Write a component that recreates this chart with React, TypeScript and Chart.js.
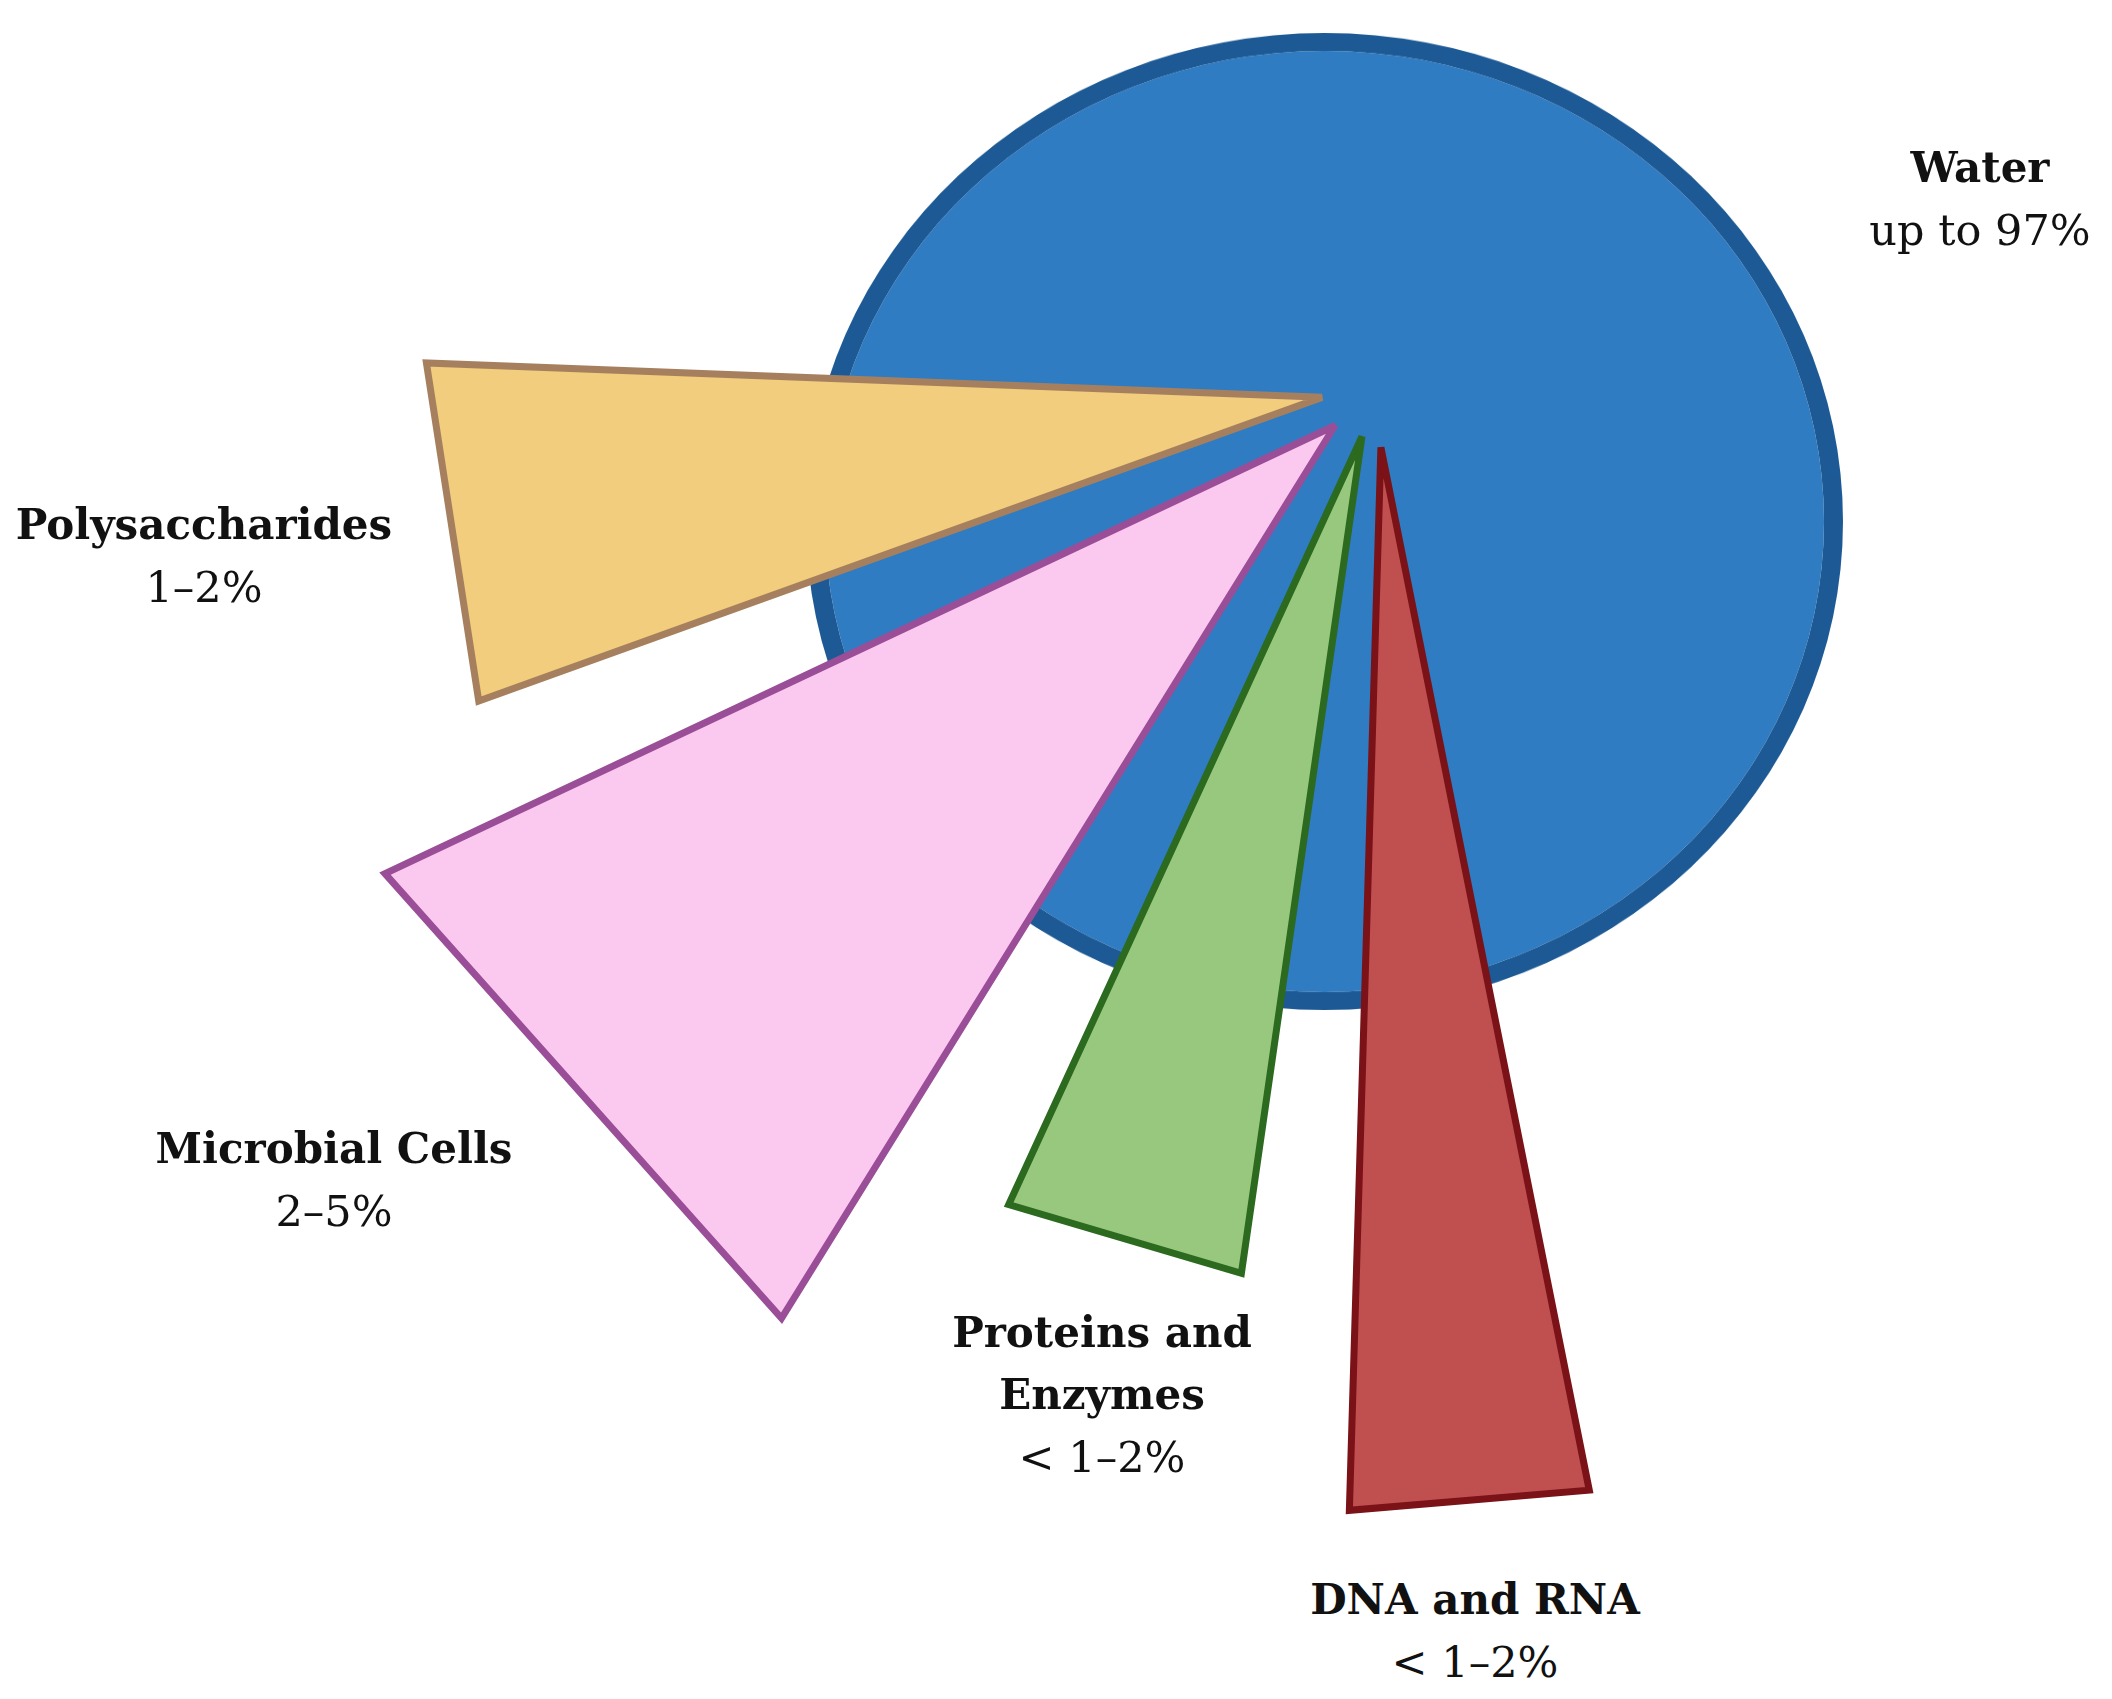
import React, { useEffect, useRef } from 'react';
import { Chart, registerables } from 'chart.js';

Chart.register(...registerables);

// ---------- data ----------
const waterName = 'Water';
const waterShareText = 'up to 97%';
const waterValue = [97];

// wedges, clockwise starting from the lowest one
const wedgeNames = ['DNA and RNA', 'Proteins and Enzymes', 'Microbial Cells', 'Polysaccharides'];
const wedgeNameLines = [['DNA and RNA'], ['Proteins and', 'Enzymes'], ['Microbial Cells'], ['Polysaccharides']];
const wedgeShareText = ['< 1–2%', '< 1–2%', '2–5%', '1–2%'];
// visual length of each wedge (water radius = 100)
const wedgeLength = [205.4, 163.3, 202.9, 173.1];
// angular width of each wedge and the gap before it (degrees)
const wedgeSpanDeg = [13.0, 16.5, 32.95, 22.0];
const wedgeGapDeg = [0, 6.5, 7.1, 5.45];

// ---------- styles / layout ----------
const wedgeFill = ['#C0504F', '#98C87E', '#FBC9EF', '#F1CD7D'];
const wedgeBorder = ['#7A1217', '#2C6A1F', '#9A4E97', '#A6805E'];
const wedgeOffset = [58.6, 49.5, 54.8, 54.7];
const wedgeStartDeg = 78.7;
const waterFill = '#2F7CC2';
const waterBorder = '#1D5A95';

const PAGE_W = 2112;
const PAGE_H = 1699;
const POLAR_SIZE = 2278;
const POLAR_LEFT = 1376 - POLAR_SIZE / 2;
const POLAR_TOP = 389 - POLAR_SIZE / 2;
const WATER_SIZE = 1037;
const WATER_H = 977;
const WATER_LEFT = 806;
const WATER_TOP = 33;

const FONT = '"DejaVu Serif", serif';
const BOLD_SIZE = 42;
const REG_SIZE = 43;
const LINE_H = 62;

const labelAnchors: Record<string, { x: number; y: number }> = {
  'Water': { x: 1980, y: 168 },
  'Polysaccharides': { x: 204, y: 525 },
  'Microbial Cells': { x: 334, y: 1149 },
  'Proteins and Enzymes': { x: 1102, y: 1333 },
  'DNA and RNA': { x: 1475, y: 1600 },
};

const trianglePlugin = {
  id: 'wedgeTriangles',
  beforeDatasetDraw() {
    return false;
  },
  afterDatasetsDraw(chart: any) {
    const meta = chart.getDatasetMeta(0);
    const ctx: CanvasRenderingContext2D = chart.ctx;
    meta.data.forEach((el: any, i: number) => {
      const { x, y, startAngle, endAngle, outerRadius } = el.getProps(
        ['x', 'y', 'startAngle', 'endAngle', 'outerRadius'],
        true
      );
      const o = el.options;
      const a0 = startAngle + (wedgeGapDeg[i] * Math.PI) / 180;
      const a1 = endAngle;
      const mid = (a0 + a1) / 2;
      const off = o.offset || 0;
      const ax = x + Math.cos(mid) * off;
      const ay = y + Math.sin(mid) * off;
      ctx.save();
      ctx.beginPath();
      ctx.moveTo(ax, ay);
      ctx.lineTo(ax + Math.cos(a0) * outerRadius, ay + Math.sin(a0) * outerRadius);
      ctx.lineTo(ax + Math.cos(a1) * outerRadius, ay + Math.sin(a1) * outerRadius);
      ctx.closePath();
      ctx.fillStyle = o.backgroundColor;
      ctx.fill();
      ctx.lineWidth = o.borderWidth;
      ctx.strokeStyle = o.borderColor;
      ctx.lineJoin = 'miter';
      ctx.miterLimit = 3;
      ctx.stroke();
      ctx.restore();
    });
  },
};

function Label({ name, lines, share }: { name: string; lines: string[]; share: string }) {
  const a = labelAnchors[name];
  const lineStyle: React.CSSProperties = {
    height: LINE_H,
    lineHeight: `${LINE_H}px`,
    whiteSpace: 'nowrap',
  };
  return (
    <div
      style={{
        position: 'absolute',
        left: a.x,
        top: a.y - LINE_H / 2,
        transform: 'translateX(-50%)',
        textAlign: 'center',
        fontFamily: FONT,
        color: '#111111',
      }}
    >
      {lines.map((l) => (
        <div key={l} style={{ ...lineStyle, fontWeight: 700, fontSize: BOLD_SIZE }}>
          {l}
        </div>
      ))}
      <div style={{ ...lineStyle, fontWeight: 400, fontSize: REG_SIZE }}>{share}</div>
    </div>
  );
}

export default function App() {
  const waterRef = useRef<HTMLCanvasElement>(null);
  const polarRef = useRef<HTMLCanvasElement>(null);

  useEffect(() => {
    const water = new Chart(waterRef.current!, {
      type: 'pie',
      data: {
        labels: [waterName],
        datasets: [
          { data: waterValue, backgroundColor: waterBorder, borderWidth: 0, weight: 19 } as any,
          { data: waterValue, backgroundColor: waterFill, borderWidth: 0, weight: 499.5 } as any,
        ],
      },
      options: {
        responsive: false,
        animation: false,
        events: [],
        layout: { padding: 0 },
        plugins: { legend: { display: false }, tooltip: { enabled: false } },
      },
    });

    const polar = new Chart(polarRef.current!, {
      type: 'polarArea',
      data: {
        labels: wedgeNames,
        datasets: [
          {
            data: wedgeLength,
            angle: (c: any) => wedgeSpanDeg[c.dataIndex] + wedgeGapDeg[c.dataIndex],
            backgroundColor: wedgeFill,
            borderColor: wedgeBorder,
            borderWidth: 7,
            offset: wedgeOffset,
          } as any,
        ],
      },
      options: {
        responsive: false,
        animation: false,
        events: [],
        layout: { padding: 0 },
        scales: {
          r: { display: false, min: 0, max: 220, startAngle: wedgeStartDeg + 90 } as any,
        },
        plugins: { legend: { display: false }, tooltip: { enabled: false } },
      },
      plugins: [trianglePlugin as any],
    });

    return () => {
      water.destroy();
      polar.destroy();
    };
  }, []);

  return (
    <div
      style={{
        position: 'absolute',
        left: 0,
        top: 0,
        width: PAGE_W,
        height: PAGE_H,
        overflow: 'hidden',
        background: '#ffffff',
      }}
    >
      <canvas
        ref={waterRef}
        width={WATER_SIZE}
        height={WATER_SIZE}
        style={{
          position: 'absolute',
          left: WATER_LEFT,
          top: WATER_TOP,
          width: WATER_SIZE,
          height: WATER_H,
        }}
      />
      <canvas
        ref={polarRef}
        width={POLAR_SIZE}
        height={POLAR_SIZE}
        style={{
          position: 'absolute',
          left: POLAR_LEFT,
          top: POLAR_TOP,
          width: POLAR_SIZE,
          height: POLAR_SIZE,
        }}
      />
      <Label name={waterName} lines={[waterName]} share={waterShareText} />
      {wedgeNames.map((n, i) => (
        <Label key={n} name={n} lines={wedgeNameLines[i]} share={wedgeShareText[i]} />
      ))}
    </div>
  );
}
